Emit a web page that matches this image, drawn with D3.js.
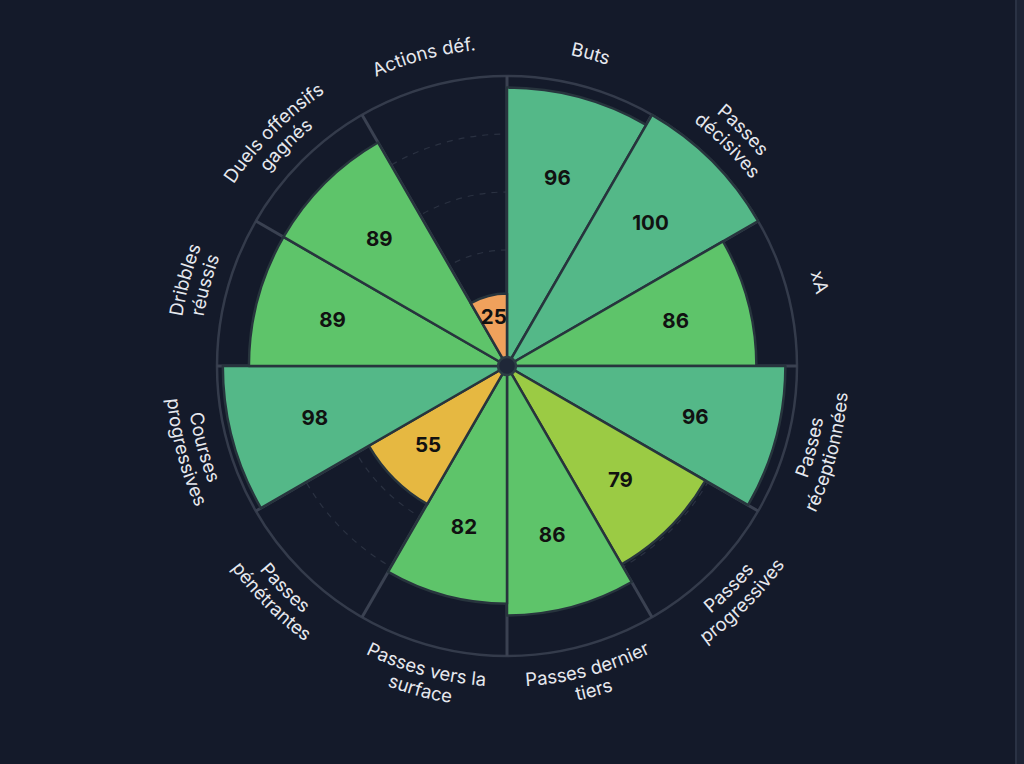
<!DOCTYPE html>
<html>
<head>
<meta charset="utf-8">
<script src="https://cdn.jsdelivr.net/npm/d3@7/dist/d3.min.js"></script>
<style>
  html, body { margin: 0; padding: 0; background: #141a2a; }
  svg { display: block; }
</style>
</head>
<body>
<svg id="chart" width="1024" height="764"></svg>
<script>
// ---- data ----
const categories = [
  ["Buts"],
  ["Passes", "décisives"],
  ["xA"],
  ["Passes", "réceptionnées"],
  ["Passes", "progressives"],
  ["Passes dernier", "tiers"],
  ["Passes vers la", "surface"],
  ["Passes", "pénétrantes"],
  ["Courses", "progressives"],
  ["Dribbles", "réussis"],
  ["Duels offensifs", "gagnés"],
  ["Actions déf."]
];
const values = [96, 100, 86, 96, 79, 86, 82, 55, 98, 89, 89, 25];
const gridTicks = [20, 40, 60, 80];
const colorBreaks = [50, 70, 80, 90];
const colorRange = ["#f0a15c", "#e6b841", "#9bcb44", "#5ec46a", "#54b888"];

// ---- layout ----
const W = 1024, H = 764;
const cx = 507, cy = 366, R = 290;
const svg = d3.select("#chart");

svg.append("rect").attr("width", W).attr("height", H).attr("fill", "#141a2a");
// right side panel edge
svg.append("rect").attr("x", 1015).attr("y", 0).attr("width", 9).attr("height", H).attr("fill", "#1d2435");
svg.append("line").attr("x1", 1016).attr("x2", 1016).attr("y1", 0).attr("y2", H)
  .attr("stroke", "#2a3244").attr("stroke-width", 2);

const g = svg.append("g").attr("transform", `translate(${cx},${cy})`);

const r = d3.scaleLinear().domain([0, 100]).range([0, R]);
const n = values.length;
const ang = d3.scaleLinear().domain([0, n]).range([0, 2 * Math.PI]);
const color = d3.scaleThreshold().domain(colorBreaks).range(colorRange);

// dashed grid circles
g.selectAll("circle.grid").data(gridTicks).join("circle")
  .attr("class", "grid")
  .attr("r", d => r(d))
  .attr("fill", "none")
  .attr("stroke", "#2a3141")
  .attr("stroke-width", 1.2)
  .attr("stroke-dasharray", "6 6");

// outer circle
g.append("circle").attr("r", r(100)).attr("fill", "none")
  .attr("stroke", "#343b4b").attr("stroke-width", 2.5);

// separators
g.selectAll("line.sep").data(d3.range(n)).join("line")
  .attr("class", "sep")
  .attr("x1", 0).attr("y1", 0)
  .attr("x2", i => r(100) * Math.sin(ang(i)))
  .attr("y2", i => -r(100) * Math.cos(ang(i)))
  .attr("stroke", "#3a4151")
  .attr("stroke-width", 3);

// slices
const arc = d3.arc().innerRadius(0);
g.selectAll("path.slice").data(values).join("path")
  .attr("class", "slice")
  .attr("d", (v, i) => arc({ outerRadius: r(v), startAngle: ang(i), endAngle: ang(i + 1) }))
  .attr("fill", v => color(v))
  .attr("stroke", "#27343d")
  .attr("stroke-width", 2.5)
  .attr("stroke-linejoin", "round");

// center dot
g.append("circle").attr("r", 9).attr("fill", "#1f2738")
  .attr("stroke", "#2c3c44").attr("stroke-width", 2.5);

// value labels
g.selectAll("text.val").data(values).join("text")
  .attr("class", "val")
  .attr("x", (v, i) => 0.7 * r(v) * Math.sin(ang(i + 0.5)))
  .attr("y", (v, i) => -0.7 * r(v) * Math.cos(ang(i + 0.5)))
  .attr("text-anchor", "middle")
  .attr("dominant-baseline", "central")
  .attr("font-family", "Inter, 'Noto Sans', sans-serif")
  .attr("font-weight", 700)
  .attr("font-size", 20.5)
  .attr("fill", "#111111")
  .text(v => v);

// category labels on arcs
const defs = svg.append("defs");
const fs = 18.5;
function pt(radius, a) { return [radius * Math.sin(a), -radius * Math.cos(a)]; }
categories.forEach((lines, i) => {
  const mid = ang(i + 0.5);
  const deg = mid * 180 / Math.PI;
  const bottom = deg > 90 && deg < 270;
  const span = Math.PI / 3;
  const nl = lines.length;
  lines.forEach((txt, j) => {
    // centre radius of this line
    let cr;
    if (nl === 1) cr = 324;
    else cr = bottom ? (j === 0 ? 314 : 335) : (j === 0 ? 335 : 314);
    const rb = bottom ? cr + fs * 0.36 : cr - fs * 0.36;
    let p0, p1, sweep;
    if (!bottom) { p0 = pt(rb, mid - span); p1 = pt(rb, mid + span); sweep = 1; }
    else { p0 = pt(rb, mid + span); p1 = pt(rb, mid - span); sweep = 0; }
    const id = `lab-${i}-${j}`;
    defs.append("path").attr("id", id)
      .attr("d", `M${p0[0] + cx},${p0[1] + cy} A${rb},${rb} 0 0 ${sweep} ${p1[0] + cx},${p1[1] + cy}`);
    svg.append("text")
      .attr("font-family", "Inter, 'Noto Sans', sans-serif")
      .attr("font-size", fs)
      .attr("fill", "#e6e8ee")
      .append("textPath")
      .attr("href", `#${id}`)
      .attr("startOffset", "50%")
      .attr("text-anchor", "middle")
      .text(txt);
  });
});
</script>
</body>
</html>
